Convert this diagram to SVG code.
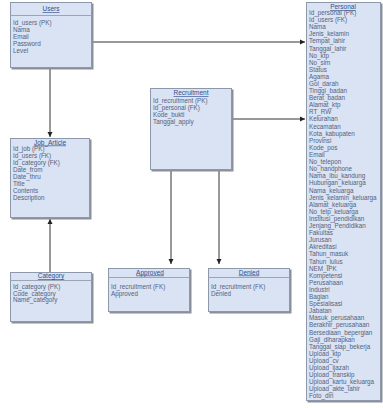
<svg xmlns="http://www.w3.org/2000/svg" width="383" height="408" viewBox="0 0 383 408">
<defs>
<marker id="arr" markerWidth="6" markerHeight="6" refX="5" refY="3" orient="auto" markerUnits="userSpaceOnUse">
<path d="M0,0.5 L5,3 L0,5.5 Z" fill="#222"/>
</marker>
</defs>
<style>
.sh{fill:#8a8f99}
.box{fill:#d9e3f3;stroke:#8d98ab;stroke-width:1}
.sep{stroke:#9aa6b8;stroke-width:1}
.t{font-family:"Liberation Sans",Arial,sans-serif;font-size:6.3px;fill:#56627a}
.ti{font-family:"Liberation Sans",Arial,sans-serif;font-size:6.5px;fill:#2d4f8e;text-decoration:underline;text-anchor:middle}
.c{stroke:#333;stroke-width:1;fill:none;marker-end:url(#arr)}
</style>
<rect width="383" height="408" fill="#ffffff"/>
<g id="connectors">
<line class="c" x1="92" y1="42" x2="305" y2="42"/>
<line class="c" x1="50" y1="68" x2="50" y2="137"/>
<line class="c" x1="50" y1="272" x2="50" y2="219"/>
<line class="c" x1="232" y1="119" x2="305" y2="119"/>
<line class="c" x1="171" y1="170" x2="171" y2="264"/>
<line class="c" x1="219" y1="170" x2="219" y2="264"/>
</g>
<g id="users">
<rect class="sh" x="11.5" y="3.5" width="82" height="66"/>
<rect class="box" x="10.5" y="2.5" width="81" height="65"/>
<line class="sep" x1="10.5" y1="15.5" x2="91.5" y2="15.5"/>
<text class="ti" x="51" y="11">Users</text>
<text class="t" x="13" y="25">Id_users (PK)<tspan x="13" dy="7">Nama</tspan><tspan x="13" dy="7">Email</tspan><tspan x="13" dy="7">Password</tspan><tspan x="13" dy="7">Level</tspan></text>
</g>
<g id="job_article">
<rect class="sh" x="11.5" y="139.5" width="80" height="80"/>
<rect class="box" x="10.5" y="138.5" width="79" height="79"/>
<text class="ti" x="50" y="144.5">Job_Article</text>
<text class="t" x="13" y="151">Id_job (PK)<tspan x="13" dy="7">Id_users (FK)</tspan><tspan x="13" dy="7">Id_category (FK)</tspan><tspan x="13" dy="7">Date_from</tspan><tspan x="13" dy="7">Date_thru</tspan><tspan x="13" dy="7">Title</tspan><tspan x="13" dy="7">Contents</tspan><tspan x="13" dy="7">Description</tspan></text>
</g>
<g id="category">
<rect class="sh" x="11.5" y="273.5" width="82" height="50"/>
<rect class="box" x="10.5" y="272.5" width="81" height="49"/>
<line class="sep" x1="10.5" y1="280.5" x2="91.5" y2="280.5"/>
<text class="ti" x="51" y="278">Category</text>
<text class="t" x="13" y="289">Id_category (PK)<tspan x="13" dy="6.5">Code_category</tspan><tspan x="13" dy="6.5">Name_category</tspan></text>
</g>
<g id="recruitment">
<rect class="sh" x="151.5" y="89.5" width="82" height="82"/>
<rect class="box" x="150.5" y="88.5" width="81" height="81"/>
<text class="ti" x="191" y="95">Recruitment</text>
<text class="t" x="153" y="103">Id_recruitment (PK)<tspan x="153" dy="7">Id_personal (FK)</tspan><tspan x="153" dy="7">Kode_bukti</tspan><tspan x="153" dy="7">Tanggal_apply</tspan></text>
</g>
<g id="approved">
<rect class="sh" x="109.5" y="269.5" width="82" height="44"/>
<rect class="box" x="108.5" y="268.5" width="81" height="43"/>
<line class="sep" x1="108.5" y1="277.5" x2="189.5" y2="277.5"/>
<text class="ti" x="150" y="274.5">Approved</text>
<text class="t" x="111" y="289">Id_recruitment (FK)<tspan x="111" dy="7">Approved</tspan></text>
</g>
<g id="denied">
<rect class="sh" x="209.5" y="269.5" width="82" height="44"/>
<rect class="box" x="208.5" y="268.5" width="81" height="43"/>
<line class="sep" x1="208.5" y1="277.5" x2="289.5" y2="277.5"/>
<text class="ti" x="249" y="274.5">Denied</text>
<text class="t" x="211" y="289">Id_recruitment (FK)<tspan x="211" dy="7">Denied</tspan></text>
</g>
<g id="personal">
<rect class="sh" x="307.5" y="3.5" width="75" height="399"/>
<rect class="box" x="306.5" y="2.5" width="74" height="398"/>
<text class="ti" x="343" y="9">Personal</text>
<text class="t" x="309" y="15">Id_personal (PK)<tspan x="309" dy="7.1">Id_users (FK)</tspan><tspan x="309" dy="7.1">Nama</tspan><tspan x="309" dy="7.1">Jenis_kelamin</tspan><tspan x="309" dy="7.1">Tempat_lahir</tspan><tspan x="309" dy="7.1">Tanggal_lahir</tspan><tspan x="309" dy="7.1">No_ktp</tspan><tspan x="309" dy="7.1">No_sim</tspan><tspan x="309" dy="7.1">Status</tspan><tspan x="309" dy="7.1">Agama</tspan><tspan x="309" dy="7.1">Gol_darah</tspan><tspan x="309" dy="7.1">Tinggi_badan</tspan><tspan x="309" dy="7.1">Berat_badan</tspan><tspan x="309" dy="7.1">Alamat_ktp</tspan><tspan x="309" dy="7.1">RT_RW</tspan><tspan x="309" dy="7.1">Kelurahan</tspan><tspan x="309" dy="7.1">Kecamatan</tspan><tspan x="309" dy="7.1">Kota_kabupaten</tspan><tspan x="309" dy="7.1">Provinsi</tspan><tspan x="309" dy="7.1">Kode_pos</tspan><tspan x="309" dy="7.1">Email</tspan><tspan x="309" dy="7.1">No_telepon</tspan><tspan x="309" dy="7.1">No_handphone</tspan><tspan x="309" dy="7.1">Nama_ibu_kandung</tspan><tspan x="309" dy="7.1">Hubungan_keluarga</tspan><tspan x="309" dy="7.1">Nama_keluarga</tspan><tspan x="309" dy="7.1">Jenis_kelamin_keluarga</tspan><tspan x="309" dy="7.1">Alamat_keluarga</tspan><tspan x="309" dy="7.1">No_telp_keluarga</tspan><tspan x="309" dy="7.1">Institusi_pendidikan</tspan><tspan x="309" dy="7.1">Jenjang_Pendidikan</tspan><tspan x="309" dy="7.1">Fakultas</tspan><tspan x="309" dy="7.1">Jurusan</tspan><tspan x="309" dy="7.1">Akreditasi</tspan><tspan x="309" dy="7.1">Tahun_masuk</tspan><tspan x="309" dy="7.1">Tahun_lulus</tspan><tspan x="309" dy="7.1">NEM_IPK</tspan><tspan x="309" dy="7.1">Kompetensi</tspan><tspan x="309" dy="7.1">Perusahaan</tspan><tspan x="309" dy="7.1">Industri</tspan><tspan x="309" dy="7.1">Bagian</tspan><tspan x="309" dy="7.1">Spesialisasi</tspan><tspan x="309" dy="7.1">Jabatan</tspan><tspan x="309" dy="7.1">Masuk_perusahaan</tspan><tspan x="309" dy="7.1">Berakhir_perusahaan</tspan><tspan x="309" dy="7.1">Bersediaan_bepergian</tspan><tspan x="309" dy="7.1">Gaji_diharapkan</tspan><tspan x="309" dy="7.1">Tanggal_siap_bekerja</tspan><tspan x="309" dy="7.1">Upload_ktp</tspan><tspan x="309" dy="7.1">Upload_cv</tspan><tspan x="309" dy="7.1">Upload_ijazah</tspan><tspan x="309" dy="7.1">Upload_transkip</tspan><tspan x="309" dy="7.1">Upload_kartu_keluarga</tspan><tspan x="309" dy="7.1">Upload_akte_lahir</tspan><tspan x="309" dy="7.1">Foto_diri</tspan></text>
</g>
</svg>
